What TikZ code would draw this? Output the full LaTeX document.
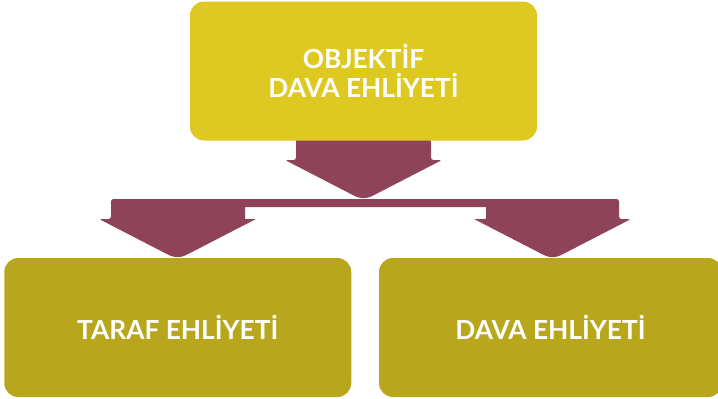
\documentclass[tikz,border=0pt]{standalone}
\usepackage{fontspec}
\setmainfont{Lato}
\usetikzlibrary{calc}
\definecolor{topyellow}{HTML}{DEC923}
\definecolor{olive}{HTML}{B8A61C}
\definecolor{plum}{HTML}{8F4359}
\tikzset{
  box/.style={rounded corners=14pt, minimum width=347pt, minimum height=139pt,
    inner sep=0pt, text=white, font=\bfseries\fontsize{26.3}{28.5}\selectfont, align=center},
  topbox/.style={box, fill=topyellow},
  lowbox/.style={box, fill=olive},
  arrowshape/.style={fill=plum},
}
\begin{document}
\begin{tikzpicture}[x=1pt, y=-1pt]
\useasboundingbox (0,0) rectangle (718,399);
% arrows (drawn first, boxes cover overshoot)
\fill[arrowshape] [rounded corners=2.5pt] (296,139) -- (431,139) -- (431,160) -- (442,160)
  [rounded corners=9pt] -- (363.5,200.5) [rounded corners=2.5pt] -- (285,160) -- (296,160) -- cycle;
\fill[arrowshape] [rounded corners=2.5pt] (111,199) -- (619,199) -- (619,219) -- (631,219)
  [rounded corners=9pt] -- (552.5,259.5) [rounded corners=1pt] -- (474,219) -- (486,219)
  [sharp corners] -- (486,207) -- (245,207) -- (245,219) [rounded corners=1pt] -- (256,219)
  [rounded corners=9pt] -- (177.5,259.5) [rounded corners=2.5pt] -- (99,219) -- (111,219) -- cycle;
% boxes
\node[topbox] (top) at (363.5,71) {OBJEKTİF\\DAVA EHLİYETİ};
\node[lowbox] (left) at (177.75,327.5) {TARAF EHLİYETİ};
\node[lowbox, minimum width=343pt] (right) at (550.5,327.5) {DAVA EHLİYETİ};
\end{tikzpicture}
\end{document}
